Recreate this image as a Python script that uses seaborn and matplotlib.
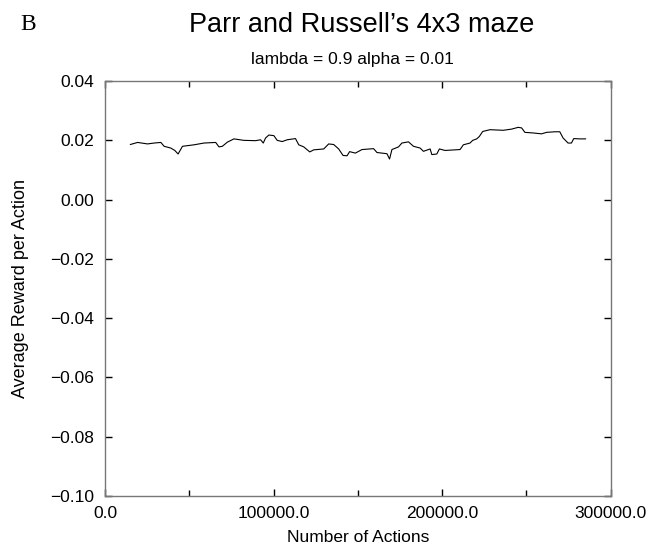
import matplotlib
matplotlib.use('Agg')

import matplotlib.pyplot as plt
from matplotlib.ticker import MultipleLocator, FuncFormatter
import seaborn as sns
import pandas as pd

# data (running average)
actions = [15000, 19350, 25270, 29170, 33140, 35090, 39050, 41420, 43370, 45980,
           52840, 58760, 65680, 67630, 69640, 72600, 76510, 82420, 89350, 92310,
           93900, 95270, 97220, 100180, 102190, 105150, 108110, 113020, 114970, 117920,
           121480, 123840, 129760, 132720, 135680, 138640, 141240, 143610, 145140, 148520,
           152480, 159350, 161360, 167280, 168820, 170230, 174140, 176150, 180050, 183010,
           186980, 188930, 192890, 193900, 196860, 198390, 201770, 210650, 212600, 216560,
           218160, 220530, 222070, 224080, 228400, 236270, 241240, 245150, 247160, 249110,
           254020, 258990, 261950, 266860, 269820, 271770, 274720, 276730, 278090, 281640,
           285200]
reward = [0.0186, 0.0193, 0.0188, 0.0191, 0.0193, 0.0180, 0.0174, 0.0166, 0.0154, 0.0180,
          0.0185, 0.0191, 0.0193, 0.0178, 0.0180, 0.0194, 0.0205, 0.0200, 0.0199, 0.0202,
          0.0191, 0.0208, 0.0218, 0.0216, 0.0200, 0.0196, 0.0202, 0.0206, 0.0185, 0.0178,
          0.0161, 0.0168, 0.0171, 0.0188, 0.0186, 0.0171, 0.0149, 0.0148, 0.0162, 0.0157,
          0.0169, 0.0172, 0.0159, 0.0155, 0.0137, 0.0169, 0.0178, 0.0191, 0.0195, 0.0180,
          0.0174, 0.0163, 0.0171, 0.0152, 0.0154, 0.0171, 0.0166, 0.0169, 0.0185, 0.0191,
          0.0200, 0.0205, 0.0213, 0.0230, 0.0236, 0.0234, 0.0238, 0.0244, 0.0242, 0.0227,
          0.0225, 0.0222, 0.0227, 0.0229, 0.0229, 0.0208, 0.0191, 0.0191, 0.0206, 0.0205,
          0.0205]

sns.set_theme(style="ticks")
plt.rcParams['font.family'] = ['Liberation Sans', 'DejaVu Sans']
plt.rcParams['text.color'] = 'black'
plt.rcParams['axes.labelcolor'] = 'black'
plt.rcParams['xtick.labelcolor'] = 'black'
plt.rcParams['ytick.labelcolor'] = 'black'

df = pd.DataFrame({"actions": actions, "reward": reward})

fig = plt.figure(figsize=(6.5, 5.48), dpi=100)
ax = fig.add_axes([0.1615, 0.095, 0.778, 0.757])

sns.lineplot(data=df, x="actions", y="reward", color="black", linewidth=0.8, ax=ax)


def yfmt(v, pos):
    s = f"{round(v, 2):.2f}"
    if s == "-0.00":
        s = "0.00"
    return s.replace("-", "\u2212")


ax.set_xlim(0, 300000)
ax.set_ylim(-0.10, 0.04)
ax.xaxis.set_major_locator(MultipleLocator(100000))
ax.xaxis.set_minor_locator(MultipleLocator(50000))
ax.xaxis.set_major_formatter(FuncFormatter(lambda v, p: f"{v:.1f}"))
ax.yaxis.set_major_locator(MultipleLocator(0.02))
ax.yaxis.set_major_formatter(FuncFormatter(yfmt))
ax.tick_params(which='both', direction='in', top=True, right=True,
               color='black', width=1, labelsize=12.5)
ax.tick_params(axis='x', pad=7)
ax.tick_params(axis='y', pad=8)
ax.tick_params(which='major', length=5)
ax.tick_params(which='minor', length=4)
for s in ax.spines.values():
    s.set_color('#777777')
    s.set_linewidth(1.0)

ax.set_xlabel("Number of Actions", fontsize=12.5, labelpad=7)
ax.set_ylabel("Average Reward per Action", fontsize=13, labelpad=15)

fig.text(0.556, 1 - 32 / 548, "Parr and Russell\u2019s 4x3 maze", ha='center', va='baseline', fontsize=19.5)
fig.text(0.542, 1 - 64 / 548, "lambda = 0.9 alpha = 0.01", ha='center', va='baseline', fontsize=12.5)
fig.text(0.043, 1 - 30 / 548, "B", ha='center', va='baseline', fontsize=17, family='Liberation Serif')

fig.savefig("out.png", dpi=100)
